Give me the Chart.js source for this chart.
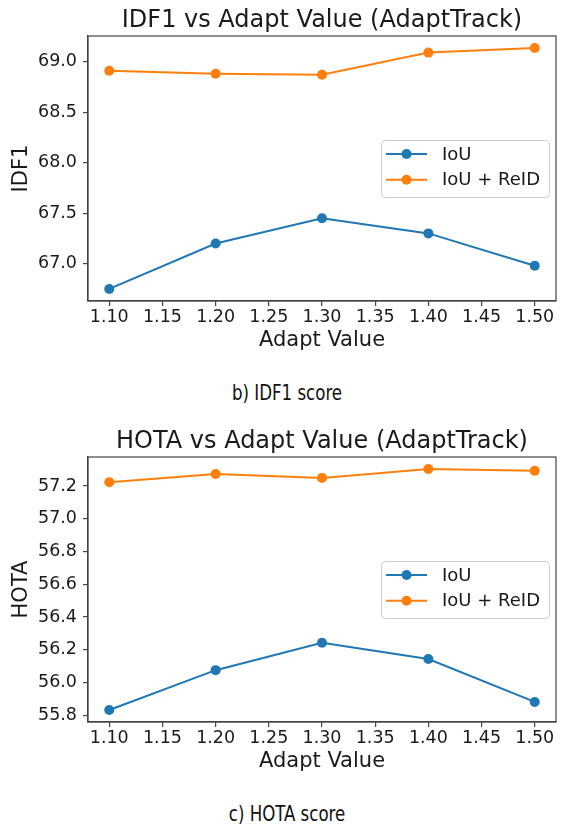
<!DOCTYPE html>
<html>
<head>
<meta charset="utf-8">
<script src="https://cdn.jsdelivr.net/npm/chart.js@4.4.1/dist/chart.umd.min.js"></script>
<style>
  html, body { margin: 0; padding: 0; background: #fff; }
  body { width: 561px; height: 825px; position: relative; overflow: hidden; }
  .box { position: absolute; left: 0; width: 561px; height: 357px; }
  .cap {
    position: absolute; left: 187px; width: 200px; text-align: center;
    font-family: "Liberation Sans Narrow", "DejaVu Sans Condensed", sans-serif;
    font-stretch: condensed; font-size: 21px; line-height: 22px; color: #111;
    transform: scaleX(0.88); transform-origin: center;
  }
</style>
</head>
<body>
<div class="box" style="top:0"><canvas id="idf1Chart"></canvas></div>
<div class="cap" style="top:382px">b) IDF1 score</div>
<div class="box" style="top:421px"><canvas id="hotaChart"></canvas></div>
<div class="cap" style="top:803px">c) HOTA score</div>

<script>
// data
const adaptValues = [1.10, 1.20, 1.30, 1.40, 1.50];
const xTicks = [1.10, 1.15, 1.20, 1.25, 1.30, 1.35, 1.40, 1.45, 1.50];
const seriesLabels = ['IoU', 'IoU + ReID'];
const seriesColors = ['#1f77b4', '#ff7f0e'];

const idf1IoU = [66.75, 67.20, 67.45, 67.30, 66.98];
const idf1ReID = [68.91, 68.88, 68.87, 69.09, 69.135];
const idf1Ticks = [67.0, 67.5, 68.0, 68.5, 69.0];

const hotaIoU = [55.833, 56.076, 56.243, 56.144, 55.882];
const hotaReID = [57.224, 57.274, 57.250, 57.304, 57.293];
const hotaTicks = [55.8, 56.0, 56.2, 56.4, 56.6, 56.8, 57.0, 57.2];

const FONT = '"DejaVu Sans", sans-serif';
const AXIS_COLOR = '#444';
const TEXT_COLOR = '#1a1a1a';

// matplotlib style 5% margins
function limits(values) {
  const lo = Math.min(...values), hi = Math.max(...values);
  const pad = (hi - lo) * 0.05;
  return { min: lo - pad, max: hi + pad };
}

const frame = {
  id: 'frame',
  afterDatasetsDraw(chart) {
    const a = chart.chartArea, ctx = chart.ctx;
    ctx.save();
    ctx.strokeStyle = AXIS_COLOR;
    ctx.lineWidth = 1.2;
    ctx.strokeRect(a.left, a.top, a.right - a.left, a.bottom - a.top);
    ctx.restore();
  }
};

const insideLegend = {
  id: 'insideLegend',
  afterDraw(chart) {
    const ctx = chart.ctx, a = chart.chartArea;
    const sets = chart.data.datasets;
    ctx.save();
    ctx.font = '18px ' + FONT;
    const textW = Math.max(...sets.map(d => ctx.measureText(d.label).width));
    const w = 5 + 41 + 15 + textW + 9;
    const h = 57;
    const x = a.right - 7 - w;
    const y = (a.top + a.bottom) / 2 - h / 2;
    ctx.beginPath();
    if (ctx.roundRect) ctx.roundRect(x + 0.5, y + 0.5, w, h, 4);
    else ctx.rect(x + 0.5, y + 0.5, w, h);
    ctx.fillStyle = 'rgba(255,255,255,0.8)';
    ctx.fill();
    ctx.strokeStyle = '#cccccc';
    ctx.lineWidth = 1;
    ctx.stroke();
    sets.forEach((d, i) => {
      const cy = y + 14 + i * 25.7;
      ctx.strokeStyle = d.borderColor;
      ctx.lineWidth = 2;
      ctx.beginPath();
      ctx.moveTo(x + 5, cy);
      ctx.lineTo(x + 46, cy);
      ctx.stroke();
      ctx.fillStyle = d.borderColor;
      ctx.beginPath();
      ctx.arc(x + 25.5, cy, 5, 0, Math.PI * 2);
      ctx.fill();
      ctx.fillStyle = TEXT_COLOR;
      ctx.textBaseline = 'middle';
      ctx.textAlign = 'left';
      ctx.fillText(d.label, x + 61, cy + 1);
    });
    ctx.restore();
  }
};

function makeChart(id, title, yLabel, iou, reid, yTicks) {
  const xl = limits(adaptValues);
  const yl = limits(iou.concat(reid));
  const series = [iou, reid];
  return new Chart(document.getElementById(id), {
    type: 'line',
    data: {
      datasets: series.map((vals, i) => ({
        label: seriesLabels[i],
        data: adaptValues.map((x, j) => ({ x: x, y: vals[j] })),
        borderColor: seriesColors[i],
        backgroundColor: seriesColors[i],
        borderWidth: 2,
        pointRadius: 5,
        pointBorderWidth: 0,
        tension: 0,
        fill: false
      }))
    },
    options: {
      responsive: true,
      maintainAspectRatio: false,
      animation: false,
      layout: { padding: { left: 0, right: 1, top: 0, bottom: 0 } },
      plugins: {
        legend: { display: false },
        tooltip: { enabled: false },
        title: {
          display: true,
          text: title,
          fullSize: false,
          color: TEXT_COLOR,
          font: { family: FONT, size: 24, weight: 'normal', lineHeight: 1 },
          padding: { top: 9, bottom: 3 }
        }
      },
      scales: {
        x: {
          type: 'linear',
          min: xl.min,
          max: xl.max,
          afterBuildTicks: s => { s.ticks = xTicks.map(v => ({ value: v })); },
          afterFit: s => { s.height = 56; },
          ticks: {
            color: TEXT_COLOR,
            font: { family: FONT, size: 17.5 },
            padding: 1,
            maxRotation: 0,
            autoSkip: false,
            callback: v => Number(v).toFixed(2)
          },
          grid: { drawOnChartArea: false, drawTicks: true, tickLength: 5, color: AXIS_COLOR, lineWidth: 1.2 },
          border: { display: true, color: AXIS_COLOR, width: 1.2 },
          title: {
            display: true,
            text: 'Adapt Value',
            color: TEXT_COLOR,
            font: { family: FONT, size: 21 },
            padding: { top: 4, bottom: 4 }
          }
        },
        y: {
          min: yl.min,
          max: yl.max,
          afterBuildTicks: s => { s.ticks = yTicks.map(v => ({ value: v })); },
          afterFit: s => { s.width = 88; },
          ticks: {
            color: TEXT_COLOR,
            font: { family: FONT, size: 17.5 },
            padding: 6,
            autoSkip: false,
            callback: v => Number(v).toFixed(1)
          },
          grid: { drawOnChartArea: false, drawTicks: true, tickLength: 5, color: AXIS_COLOR, lineWidth: 1.2 },
          border: { display: true, color: AXIS_COLOR, width: 1.2 },
          title: {
            display: true,
            text: yLabel,
            color: TEXT_COLOR,
            font: { family: FONT, size: 21 },
            padding: { top: 9, bottom: 4 }
          }
        }
      }
    },
    plugins: [frame, insideLegend]
  });
}

makeChart('idf1Chart', 'IDF1 vs Adapt Value (AdaptTrack)', 'IDF1', idf1IoU, idf1ReID, idf1Ticks);
makeChart('hotaChart', 'HOTA vs Adapt Value (AdaptTrack)', 'HOTA', hotaIoU, hotaReID, hotaTicks);
</script>
</body>
</html>
